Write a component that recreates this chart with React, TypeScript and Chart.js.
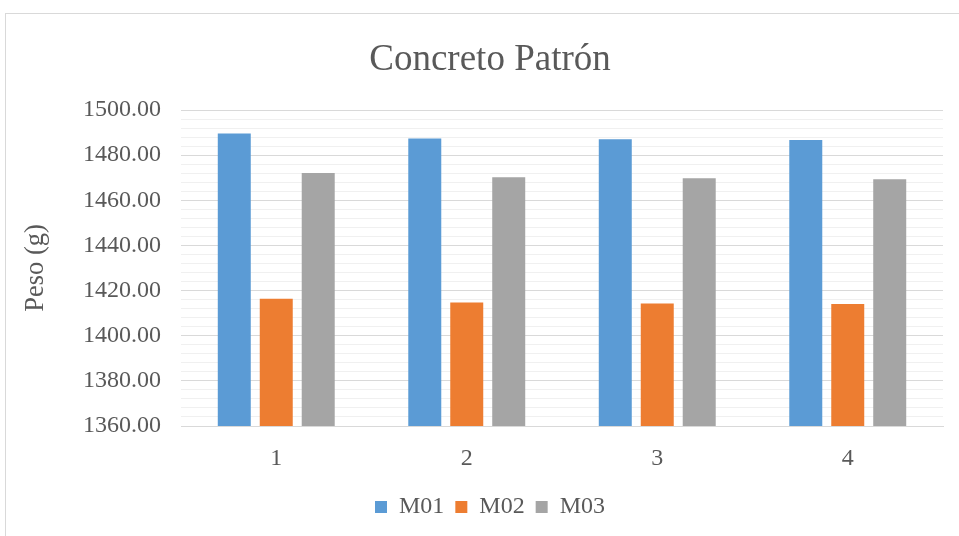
import React, { useEffect, useRef } from "react";
import { Chart, registerables } from "chart.js";

Chart.register(...registerables);

const categories = ["1", "2", "3", "4"];
const seriesNames = ["M01", "M02", "M03"];
const m01 = [1489.6, 1487.4, 1487.0, 1486.7];
const m02 = [1416.4, 1414.7, 1414.3, 1414.0];
const m03 = [1472.1, 1470.2, 1469.8, 1469.3];
const seriesColors = ["#5B9BD5", "#ED7D31", "#A5A5A5"];

const yMin = 1360;
const yMax = 1500;
const minorStep = 4;
const majorStep = 20;

const FONT = '"Liberation Serif", "Times New Roman", serif';
const TEXT = "#595959";

export default function App() {
  const canvasRef = useRef<HTMLCanvasElement | null>(null);

  useEffect(() => {
    const canvas = canvasRef.current;
    if (!canvas) return;
    const values = [m01, m02, m03];
    const chart = new Chart(canvas, {
      type: "bar",
      data: {
        labels: categories,
        datasets: seriesNames.map((name, i) => ({
          label: name,
          data: values[i],
          backgroundColor: seriesColors[i],
          borderWidth: 0,
          categoryPercentage: 0.661,
          barPercentage: 0.786,
        })),
      },
      options: {
        responsive: false,
        animation: false,
        devicePixelRatio: 1,
        layout: { padding: { left: 0, right: 0, top: 0, bottom: 7 } },
        plugins: {
          tooltip: { enabled: false },
          title: {
            display: true,
            text: "Concreto Patrón",
            color: TEXT,
            font: { family: FONT, size: 37, weight: "normal" },
            padding: { top: 38, bottom: 27.6 },
          },
          legend: {
            position: "bottom",
            labels: {
              color: TEXT,
              font: { family: FONT, size: 24 },
              boxWidth: 12,
              boxHeight: 12,
              padding: 11,
            },
          },
        },
        scales: {
          x: {
            grid: { display: false, drawTicks: false },
            border: { display: true, color: "#d9d9d9", width: 1 },
            ticks: {
              color: TEXT,
              font: { family: FONT, size: 24 },
              padding: 18,
            },
            afterFit: (scale: any) => {
              scale.height = 58;
            },
          },
          y: {
            min: yMin,
            max: yMax,
            border: { display: false },
            grid: {
              drawTicks: false,
              color: (ctx: any) =>
                ctx.tick && ctx.tick.value % majorStep === 0 ? "#d9d9d9" : "#f0f0f0",
              lineWidth: 1,
            },
            ticks: {
              stepSize: minorStep,
              autoSkip: false,
              color: TEXT,
              font: { family: FONT, size: 24 },
              padding: 20,
              callback: (v: any) =>
                Number(v) % majorStep === 0 ? Number(v).toFixed(2) : "",
            },
            title: {
              display: true,
              text: "Peso (g)",
              color: TEXT,
              font: { family: FONT, size: 26.5 },
              padding: { top: 20, bottom: 0 },
            },
            afterFit: (scale: any) => {
              scale.width = 181;
            },
          },
          // empty right-hand gutter so the title and legend centre on the frame
          gutter: {
            type: "linear",
            position: "right",
            display: true,
            grid: { display: false, drawTicks: false },
            border: { display: false },
            ticks: { display: false },
            afterFit: (scale: any) => {
              scale.width = 37;
            },
          },
        },
      },
    });
    return () => chart.destroy();
  }, []);

  return (
    <div
      style={{
        position: "fixed",
        left: 0,
        top: 0,
        width: 959,
        height: 536,
        overflow: "hidden",
        background: "#ffffff",
      }}
    >
      <div
        style={{
          position: "absolute",
          left: 5,
          top: 13,
          width: 1000,
          height: 600,
          border: "1px solid #d9d9d9",
          boxSizing: "border-box",
        }}
      />
      <canvas
        ref={canvasRef}
        width={980}
        height={536}
        style={{ position: "absolute", left: 0, top: 0 }}
      />
    </div>
  );
}
